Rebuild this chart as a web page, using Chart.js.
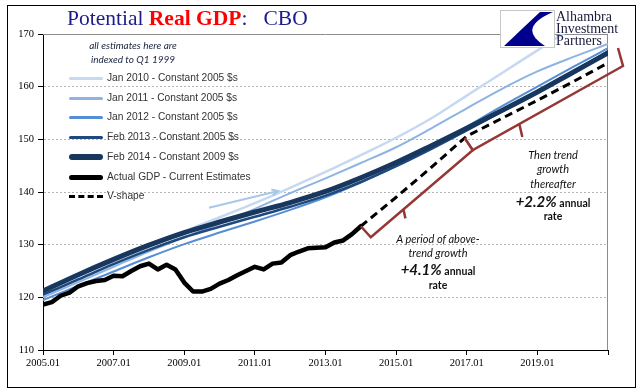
<!DOCTYPE html>
<html>
<head>
<meta charset="utf-8">
<script src="https://cdn.jsdelivr.net/npm/chart.js@4.4.0/dist/chart.umd.min.js"></script>
<style>
  body { margin: 0; background: #fff; }
  #wrap { position: relative; width: 641px; height: 392px; overflow: hidden; background: #fff; }
  #frame { position: absolute; left: 7px; top: 5px; width: 627px; height: 381px; border: 1.5px solid #000; }
  canvas { position: absolute; left: 0; top: 0; }
  .abs { position: absolute; white-space: nowrap; line-height: 1; }
  #title { left: 67px; top: 8px; font-family: "Liberation Serif", serif; font-size: 21.5px; color: #1c1c8c; }
  #title b { color: #ff0000; }
  .note { font-family: Lato, sans-serif; font-style: italic; font-size: 10px; color: #1b2440; width: 160px; left: 53px; text-align: center; }
  .leg { left: 69px; height: 12px; display: flex; align-items: center; font-family: "Liberation Sans", Arial, sans-serif; font-size: 10.2px; color: #333; }
  .leg i { display: inline-block; width: 34px; margin-right: 4px; border-radius: 3px; }
  .ann { font-family: Lato, sans-serif; font-style: italic; font-size: 11px; color: #111; width: 200px; text-align: center; line-height: 15px; }
  .ann .big { font-weight: bold; font-size: 15px; }
  .ann .sm { font-weight: bold; font-style: normal; font-size: 10.5px; }
  .logo { font-family: "Liberation Serif", serif; font-size: 14px; color: #1a1a3c; left: 556px; }
</style>
</head>
<body>
<div id="wrap">
  <canvas id="chart1" width="641" height="392"></canvas>
  <div id="frame"></div>
  <div id="title" class="abs">Potential <b>Real GDP</b>:&nbsp;&nbsp; CBO</div>

  <div class="abs note" style="top:40px">all estimates here are</div>
  <div class="abs note" style="top:54px">indexed to Q1 1999</div>

  <div id="legend"></div>

  <div class="abs ann" style="left:338px; top:231px">A period of above-</div>
  <div class="abs ann" style="left:338px; top:245px">trend growth</div>
  <div class="abs ann" style="left:338px; top:262px"><span class="big">+4.1%</span> <span class="sm">annual</span></div>
  <div class="abs ann" style="left:338px; top:277px"><span class="sm">rate</span></div>

  <div class="abs ann" style="left:453px; top:147px">Then trend</div>
  <div class="abs ann" style="left:453px; top:161px">growth</div>
  <div class="abs ann" style="left:453px; top:176px">thereafter</div>
  <div class="abs ann" style="left:453px; top:194px"><span class="big">+2.2%</span> <span class="sm">annual</span></div>
  <div class="abs ann" style="left:453px; top:208px"><span class="sm">rate</span></div>

  <svg class="abs" style="left:500px; top:10px" width="56" height="39">
    <rect x="0.5" y="0.5" width="54" height="37" fill="#fff" stroke="#c8c8c8"/>
    <path d="M40 2 L53 2 Q16 18 45 36 L4 36 Z" fill="#00008c"/>
  </svg>
  <div class="abs logo" style="top:10px">Alhambra</div>
  <div class="abs logo" style="top:22px">Investment</div>
  <div class="abs logo" style="top:34px">Partners</div>
</div>

<script>
// Axe X : trimestres, étiquettes tous les deux ans
const xTickYears = [2005, 2007, 2009, 2011, 2013, 2015, 2017, 2019, 2021];
const xTickLabels = ['2005.01', '2007.01', '2009.01', '2011.01', '2013.01', '2015.01', '2017.01', '2019.01', ''];

// Estimations CBO du PIB potentiel (indice Q1 1999 = 100), une valeur par année
const potYears = [2005, 2006, 2007, 2008, 2009, 2010, 2011, 2012, 2013, 2014, 2015, 2016, 2017, 2018, 2019, 2020, 2021];
const jan2010 = [120.4, 123.4, 126.5, 129.6, 132.5, 135.2, 137.9, 140.8, 143.8, 147.0, 150.3, 154.0, 158.3, 162.6, 166.9, 171.2, 175.5];
const jan2011 = [120.0, 122.9, 125.8, 128.7, 131.4, 134.0, 136.8, 139.8, 142.6, 145.5, 148.5, 152.1, 155.9, 159.6, 162.9, 165.6, 168.1];
const jan2012 = [119.5, 122.2, 124.9, 127.6, 130.1, 132.3, 134.4, 136.6, 139.0, 141.8, 144.9, 148.5, 152.4, 156.3, 160.0, 163.7, 167.3];
const feb2013 = [120.5, 123.4, 126.3, 129.0, 131.4, 133.4, 135.3, 137.2, 139.3, 141.9, 144.9, 148.2, 151.7, 155.3, 159.0, 162.8, 166.7];
const feb2014 = [121.2, 124.3, 127.2, 129.9, 132.3, 134.3, 136.2, 138.0, 140.1, 142.7, 145.6, 148.8, 152.1, 155.5, 159.0, 162.7, 166.4];

// PIB réel observé, trimestriel de 2005.01 à 2014.01
const gdpStartYear = 2005;
const actualGdp = [118.6, 119.1, 120.3, 120.9, 122.1, 122.7, 123.1, 123.3, 124.1, 124.0, 125.0, 125.9,
                   126.4, 125.3, 126.2, 125.3, 122.8, 121.1, 121.1, 121.6, 122.6, 123.3, 124.2, 125.0,
                   125.8, 125.3, 126.4, 126.6, 128.0, 128.7, 129.3, 129.4, 129.5, 130.4, 130.8, 132.0, 133.5];

// Scénario en V
const vYears = [2014, 2015, 2016, 2017, 2018, 2019, 2020, 2021];
const vShape = [133.5, 139.0, 144.7, 150.6, 154.0, 157.4, 160.9, 164.5];

// petite flèche bleue (coordonnées en données)
const arrowFrom = [2009.7, 137.0];
const arrowTo = [2011.66, 140.2];

const legendItems = [
    { label: 'Jan 2010 - Constant 2005 $s', color: '#c6d9f1', width: 3 },
    { label: 'Jan 2011 - Constant 2005 $s', color: '#8eb4e3', width: 3 },
    { label: 'Jan 2012 - Constant 2005 $s', color: '#558ed5', width: 3 },
    { label: 'Feb 2013 - Constant 2005 $s', color: '#1f497d', width: 3 },
    { label: 'Feb 2014 - Constant 2009 $s', color: '#17375e', width: 6 },
    { label: 'Actual GDP - Current Estimates', color: '#000', width: 5 },
    { label: 'V-shape', color: '#000', width: 3, dashed: true }
];

function pairs(xs, ys) {
    return ys.map((v, i) => ({ x: xs[i], y: v }));
}

function potLine(label, data, color, width, order) {
    return {
        label: label,
        data: pairs(potYears, data),
        borderColor: color,
        borderWidth: width,
        cubicInterpolationMode: 'monotone',
        order: order
    };
}

// légende en HTML
const legendTops = [72, 92, 111, 131, 151, 171, 190];
const legendBox = document.getElementById('legend');
legendItems.forEach((item, i) => {
    const row = document.createElement('div');
    row.className = 'abs leg';
    row.style.top = legendTops[i] + 'px';
    const sample = document.createElement('i');
    if (item.dashed) {
        sample.style.borderTop = item.width + 'px dashed ' + item.color;
        sample.style.borderRadius = '0';
    } else {
        sample.style.height = item.width + 'px';
        sample.style.background = item.color;
    }
    row.appendChild(sample);
    row.appendChild(document.createTextNode(item.label));
    legendBox.appendChild(row);
});

// annotations : bordure du graphique, accolades, flèche
const annotations = {
    id: 'annotations',
    beforeDatasetsDraw(chart) {
        const { ctx, chartArea } = chart;
        ctx.save();
        ctx.strokeStyle = '#8c8c8c';
        ctx.lineWidth = 1;
        ctx.beginPath();
        ctx.moveTo(chartArea.left, chartArea.top + 0.5);
        ctx.lineTo(chartArea.right, chartArea.top + 0.5);
        ctx.moveTo(chartArea.right - 0.5, chartArea.top);
        ctx.lineTo(chartArea.right - 0.5, chartArea.bottom);
        ctx.stroke();
        ctx.restore();
    },
    afterDatasetsDraw(chart) {
        const { ctx, scales: { x, y } } = chart;
        const pt = (yr, v) => ({ x: x.getPixelForValue(yr), y: y.getPixelForValue(v) });
        const p0 = pt(vYears[0], vShape[0]);
        const pk = pt(vYears[3], vShape[3]);
        const pe = pt(vYears[vYears.length - 1], vShape[vShape.length - 1]);

        function bracket(a, b, c, d, f, tick) {
            ctx.beginPath();
            ctx.moveTo(a.x, a.y);
            ctx.lineTo(b.x, b.y);
            ctx.lineTo(c.x, c.y);
            ctx.lineTo(d.x, d.y);
            const mx = b.x + (c.x - b.x) * f, my = b.y + (c.y - b.y) * f;
            ctx.moveTo(mx, my);
            ctx.lineTo(mx + tick[0], my + tick[1]);
            ctx.stroke();
        }
        ctx.save();
        ctx.strokeStyle = '#953735';
        ctx.lineWidth = 2.5;
        ctx.lineJoin = 'miter';
        const off = (p, dx, dy) => ({ x: p.x + dx, y: p.y + dy });
        bracket(p0, off(p0, 10, 11), off(pk, 6, 14), off(pk, -2, 2), 0.32, [2, 9]);
        bracket(off(pk, -2, 2), off(pk, 6, 14), off(pe, 15, 3), off(pe, 10, -15), 0.31, [3, 13]);

        // flèche
        const a = pt(arrowFrom[0], arrowFrom[1]);
        const b = pt(arrowTo[0], arrowTo[1]);
        const ang = Math.atan2(b.y - a.y, b.x - a.x);
        ctx.strokeStyle = '#a9c7ec';
        ctx.lineWidth = 2;
        ctx.beginPath();
        ctx.moveTo(a.x, a.y);
        ctx.lineTo(b.x, b.y);
        ctx.moveTo(b.x - 7 * Math.cos(ang - 0.45), b.y - 7 * Math.sin(ang - 0.45));
        ctx.lineTo(b.x, b.y);
        ctx.lineTo(b.x - 7 * Math.cos(ang + 0.45), b.y - 7 * Math.sin(ang + 0.45));
        ctx.stroke();
        ctx.restore();
    }
};

const tickFont = { family: 'Liberation Serif', size: 10.5 };

new Chart(document.getElementById('chart1').getContext('2d'), {
    type: 'line',
    data: {
        datasets: [
            potLine('Jan 2010 - Constant 2005 $s', jan2010, '#c6d9f1', 2.5, 7),
            potLine('Jan 2011 - Constant 2005 $s', jan2011, '#8eb4e3', 2, 6),
            potLine('Jan 2012 - Constant 2005 $s', jan2012, '#558ed5', 2, 5),
            potLine('Feb 2013 - Constant 2005 $s', feb2013, '#1f497d', 2.5, 4),
            potLine('Feb 2014 - Constant 2009 $s', feb2014, '#17375e', 5, 3),
            {
                label: 'Actual GDP - Current Estimates',
                data: actualGdp.map((v, i) => ({ x: gdpStartYear + i / 4, y: v })),
                borderColor: '#000',
                borderWidth: 4.5,
                order: 2
            },
            {
                label: 'V-shape',
                data: pairs(vYears, vShape),
                borderColor: '#000',
                borderWidth: 3,
                borderDash: [8, 5],
                borderCapStyle: 'butt',
                order: 1
            }
        ]
    },
    options: {
        responsive: false,
        animation: false,
        devicePixelRatio: 1,
        layout: { padding: { top: 34, right: 33, left: 0, bottom: 0 } },
        plugins: { legend: { display: false }, tooltip: { enabled: false } },
        elements: {
            point: { radius: 0 },
            line: { borderCapStyle: 'round', borderJoinStyle: 'round', tension: 0 }
        },
        scales: {
            x: {
                type: 'linear',
                min: 2005,
                max: 2021,
                afterBuildTicks: s => { s.ticks = xTickYears.map(v => ({ value: v })); },
                afterFit: s => { s.height = 42; },
                ticks: {
                    autoSkip: false, maxRotation: 0, padding: 2, color: '#000', font: tickFont,
                    callback: (v, i) => xTickLabels[i]
                },
                grid: { drawOnChartArea: false, drawTicks: true, tickLength: 5, tickColor: '#000' },
                border: { color: '#000', width: 1 }
            },
            y: {
                min: 110,
                max: 170,
                afterFit: s => { s.width = 43; },
                ticks: { stepSize: 10, padding: 4, color: '#000', font: tickFont },
                grid: {
                    color: c => (c.tick && c.tick.value > 110 && c.tick.value < 170) ? '#b4b4b4' : 'rgba(0,0,0,0)',
                    tickColor: '#000', tickLength: 5
                },
                border: { color: '#000', width: 1, dash: [2, 2] }
            }
        }
    },
    plugins: [annotations]
});
</script>
</body>
</html>
